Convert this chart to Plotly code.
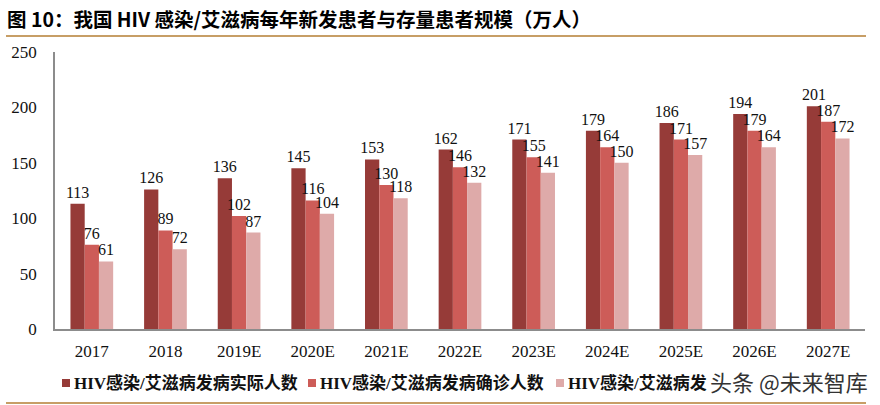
import plotly.graph_objects as go

categories = ["2017", "2018", "2019E", "2020E", "2021E", "2022E", "2023E", "2024E", "2025E", "2026E", "2027E"]
actual = [113, 126, 136, 145, 153, 162, 171, 179, 186, 194, 201]
diagnosed = [76, 89, 102, 116, 130, 146, 155, 164, 171, 179, 187]
treated = [61, 72, 87, 104, 118, 132, 141, 150, 157, 164, 172]
# third legend label is partly hidden by the watermark in the source; only the visible part is shown
series_names = ["HIV感染/艾滋病发病实际人数", "HIV感染/艾滋病发病确诊人数", "HIV感染/艾滋病发"]
colors = ["#963B38", "#CD5C58", "#DEAAA9"]
y_ticks = [0, 50, 100, 150, 200, 250]

serif = "Liberation Serif, Times New Roman, serif"
cjk = "Liberation Serif, Noto Sans CJK SC, serif"

# plot area in pixels: x 55..865, y 52..329
L, R, T, B = 55, 865, 52, 329
W, H = R - L, B - T


def px(x):
    return (x - L) / W


def py(y):
    return (B - y) / H


fig = go.Figure()
for name, vals, col in zip(series_names, [actual, diagnosed, treated], colors):
    fig.add_trace(go.Bar(
        x=categories, y=vals, name=name, marker_color=col, marker_line_width=0,
        text=[str(v) for v in vals], textposition="outside", cliponaxis=False,
        constraintext="none",
        textfont=dict(family=serif, size=16, color="#111111"),
    ))

fig.update_layout(
    width=880, height=405,
    margin=dict(l=L, r=880 - R, t=T, b=405 - B, autoexpand=False),
    plot_bgcolor="white", paper_bgcolor="white",
    barmode="group", bargap=0.42, bargroupgap=0,
    showlegend=False,
    xaxis=dict(showline=True, linecolor="#8C8C8C", linewidth=1.5, ticks="",
               tickfont=dict(family=serif, size=17, color="#111111"), showgrid=False,
               ticklabelstandoff=6),
    yaxis=dict(range=[0, 250], tickvals=y_ticks, showline=True, linecolor="#8C8C8C",
               linewidth=1.5, ticks="", showgrid=False, zeroline=False,
               tickfont=dict(family=serif, size=17, color="#111111"), ticklabelstandoff=13),
)

# title and rules
fig.add_annotation(text="<b>图 10：我国 HIV 感染/艾滋病每年新发患者与存量患者规模（万人）</b>",
                   xref="paper", yref="paper", x=px(5), y=py(18), xanchor="left", yanchor="middle",
                   showarrow=False, font=dict(family="Noto Sans CJK SC, sans-serif", size=19.5, color="#000000"))
for yy in (36, 403):
    fig.add_shape(type="line", xref="paper", yref="paper", x0=px(6), x1=px(866),
                  y0=py(yy), y1=py(yy), line=dict(color="#C79E66", width=2))

# legend (drawn manually)
legend_sq_x = [62, 308, 556]
for name, col, sx in zip(series_names, colors, legend_sq_x):
    fig.add_shape(type="rect", xref="paper", yref="paper", x0=px(sx), x1=px(sx + 8),
                  y0=py(387), y1=py(379), fillcolor=col, line_width=0)
    fig.add_annotation(text="<b>" + name + "</b>", xref="paper", yref="paper",
                       x=px(sx + 10), y=py(383), xanchor="left", yanchor="middle", showarrow=False,
                       font=dict(family=cjk, size=17, color="#111111"))

fig.add_annotation(text="头条 @未来智库", xref="paper", yref="paper",
                   x=px(869), y=py(381), xanchor="right", yanchor="middle", showarrow=False,
                   bgcolor="white", borderpad=0,
                   font=dict(family="Noto Sans CJK SC, sans-serif", size=22, color="#333333"))

fig.write_html("out.html", config={"displayModeBar": False},
               post_script="document.body.style.margin='0px';")
